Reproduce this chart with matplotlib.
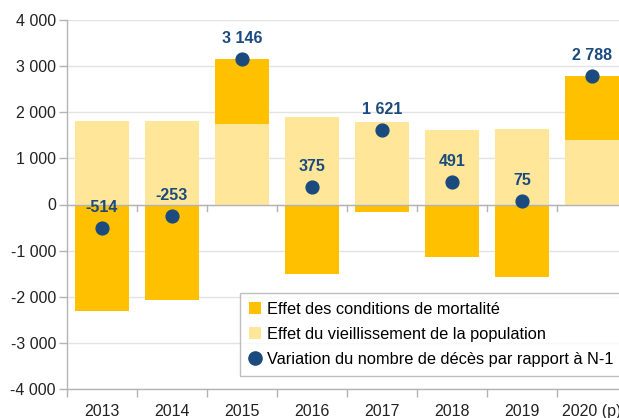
import matplotlib
matplotlib.use("Agg")
import matplotlib.pyplot as plt
from matplotlib.lines import Line2D
from matplotlib.patches import Patch
import matplotlib.transforms as mtransforms
import numpy as np

plt.rcParams['font.family'] = ['Liberation Sans', 'DejaVu Sans']

years = ["2013", "2014", "2015", "2016", "2017", "2018", "2019", "2020 (p)"]
aging = [1800, 1810, 1740, 1890, 1790, 1620, 1640, 1400]
mortality = [-2314, -2063, 1406, -1515, -169, -1129, -1565, 1388]
variation = [-514, -253, 3146, 375, 1621, 491, 75, 2788]
yticks = [-4000, -3000, -2000, -1000, 0, 1000, 2000, 3000, 4000]

dark = "#FFC000"
light = "#FFE699"
navy = "#1B4A7E"
grey = "#B3B3B3"

def fmt(v):
    s = f"{abs(v):,}".replace(",", " ")
    return ("-" if v < 0 else "") + s

fig = plt.figure(figsize=(6.19, 4.18), dpi=100)
W, H = 619, 418
ax = fig.add_axes([67 / W, 1 - 389 / H, (627 - 67) / W, (389 - 20) / H])

x = np.arange(len(years))
bw = 0.76
ax.bar(x, aging, width=bw, color=light, zorder=2)
mort_bottom = [a if m > 0 else 0 for a, m in zip(aging, mortality)]
ax.bar(x, mortality, width=bw, bottom=mort_bottom, color=dark, zorder=2)

ax.scatter(x, variation, s=85, color=navy, zorder=4)
for xi, v in zip(x, variation):
    ax.annotate(fmt(v), (xi, v), xytext=(0, 9.5), textcoords="offset points",
                ha="center", va="bottom", fontsize=11.5, fontweight="bold",
                color=navy, zorder=5)

ax.set_xlim(-0.5, len(years) - 0.5)
ax.set_ylim(-4000, 4000)
ax.set_yticks(yticks)
ax.set_yticklabels([fmt(t) for t in yticks], fontsize=11.5, color="#222222")
ax.grid(axis="y", color="#E3E3E3", linewidth=1, zorder=0)
ax.set_axisbelow(True)

ax.set_xticks(x)
ax.set_xticklabels(years, fontsize=11.5, color="#222222")
ax.tick_params(axis="x", which="major", length=0, pad=11)
ax.set_xticks(np.arange(len(years) + 1) - 0.5, minor=True)
ax.tick_params(axis="x", which="minor", length=6, color=grey, width=1)
ax.tick_params(axis="y", length=6, color=grey, width=1, pad=2)

for s in ["top", "right"]:
    ax.spines[s].set_visible(False)
for s in ["left", "bottom"]:
    ax.spines[s].set_color(grey)
    ax.spines[s].set_linewidth(1)

# zero line with tick marks at category boundaries
ax.axhline(0, color=grey, linewidth=1, zorder=3)
tick_tr = mtransforms.blended_transform_factory(ax.transData, ax.transAxes)
for b in np.arange(1, len(years)) - 0.5:
    ax.add_line(Line2D([b, b], [0.5, 0.5 - 6 / 369], transform=tick_tr,
                       color=grey, linewidth=1, zorder=1))

handles = [
    Patch(facecolor=dark, edgecolor="none", label="Effet des conditions de mortalité"),
    Patch(facecolor=light, edgecolor="none", label="Effet du vieillissement de la population"),
    Line2D([], [], marker="o", linestyle="none", markersize=9.5, color=navy,
           label="Variation du nombre de décès par rapport à N-1"),
]
leg = ax.legend(handles=handles, loc="lower left",
                bbox_to_anchor=(240 / W, 1 - 376 / H), bbox_transform=fig.transFigure,
                fontsize=11.8, frameon=True, fancybox=False, handlelength=0.75,
                handleheight=0.75, handletextpad=0.35, borderpad=0.55,
                labelspacing=0.62, borderaxespad=0)
leg.get_frame().set_edgecolor("#B0B0B0")
leg.get_frame().set_linewidth(1)
leg.set_zorder(6)

fig.savefig("out.png", dpi=100)
